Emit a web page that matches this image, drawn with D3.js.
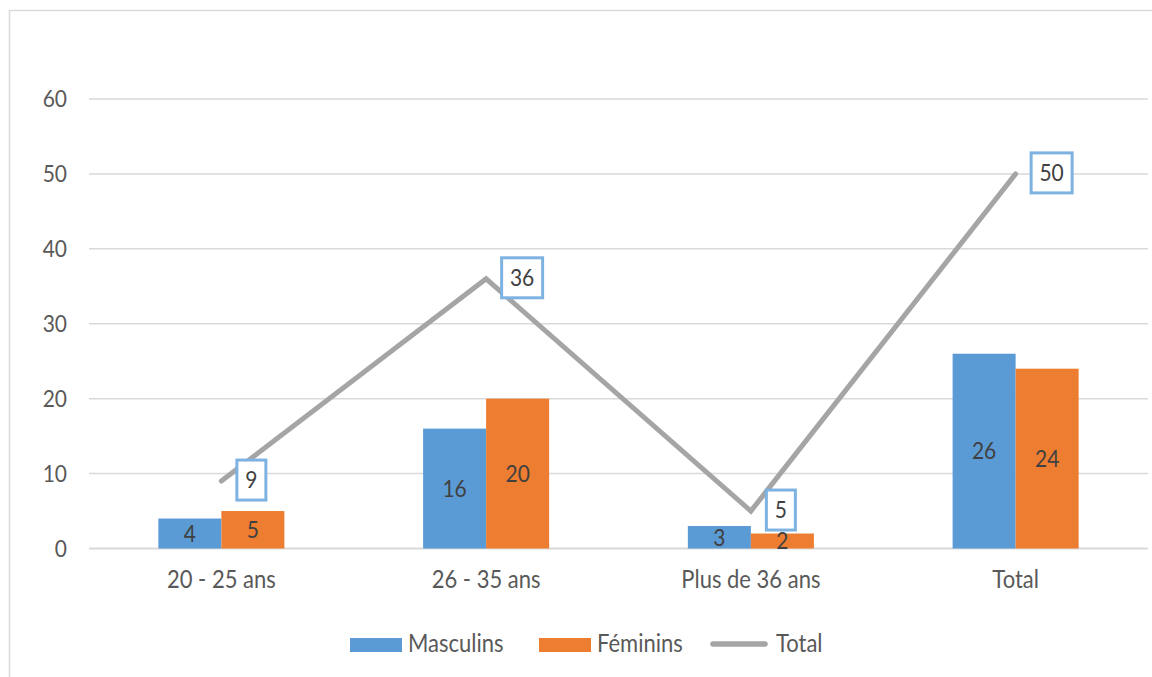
<!DOCTYPE html>
<html>
<head>
<meta charset="utf-8">
<script src="https://cdn.jsdelivr.net/npm/d3@7"></script>
<style>
  html, body { margin: 0; padding: 0; background: #fff; }
  svg { display: block; }
  text { font-family: Lato, "Open Sans", sans-serif; }
</style>
</head>
<body>
<svg id="chart" width="1152" height="677"></svg>
<script>
// ---- data ----
const categories = ["20 - 25 ans", "26 - 35 ans", "Plus de 36 ans", "Total"];
const masculins = [4, 16, 3, 26];
const feminins = [5, 20, 2, 24];
const totals = [9, 36, 5, 50];
const yTicks = [0, 10, 20, 30, 40, 50, 60];
const seriesNames = ["Masculins", "Féminins", "Total"];

// ---- styles ----
const C = { blue: "#5B9BD5", orange: "#ED7D31", gray: "#A5A5A5", grid: "#D9D9D9",
            tick: "#595959", label: "#404040", box: "#7EB2E1" };
const FS = 21, FS2 = 22, SY = 1.1;

const svg = d3.select("#chart");

// frame
svg.append("path").attr("d", "M9.5,677 V10.5 H1152")
  .attr("fill", "none").attr("stroke", C.grid).attr("stroke-width", 1.5);

const x0 = d3.scaleBand().domain(categories).range([89, 1148])
  .paddingInner(0.524).paddingOuter(0.262);
const x1 = d3.scaleBand().domain([0, 1]).range([0, x0.bandwidth()]);
const y = d3.scaleLinear().domain([0, 60]).range([548.5, 99]);

function txt(g, x, yb, s, opts) {
  opts = opts || {};
  return g.append("text")
    .attr("transform", `translate(${x},${yb}) scale(1,${SY})`)
    .attr("text-anchor", opts.anchor || "middle")
    .attr("font-size", opts.fs || FS)
    .attr("fill", opts.fill || C.tick)
    .text(s);
}
const halfDigit = 0.36 * FS * SY;

// gridlines
const grid = svg.append("g");
yTicks.forEach(t => {
  grid.append("line").attr("x1", 89).attr("x2", 1148)
    .attr("y1", y(t)).attr("y2", y(t))
    .attr("stroke", C.grid).attr("stroke-width", t === 0 ? 2 : 1.5);
  txt(grid, 67, y(t) + halfDigit, String(t), { anchor: "end" });
});

// category labels
categories.forEach(c => txt(svg, x0(c) + x0.bandwidth() / 2, 588, c, { fs: FS2 }));

// bars
const bars = svg.append("g");
const series = [masculins, feminins];
const colors = [C.blue, C.orange];
series.forEach((vals, si) => {
  vals.forEach((v, i) => {
    const bx = x0(categories[i]) + x1(si);
    bars.append("rect").attr("x", bx).attr("y", y(v))
      .attr("width", x1.bandwidth()).attr("height", y(0) - y(v))
      .attr("fill", colors[si]);
  });
});
series.forEach((vals, si) => {
  vals.forEach((v, i) => {
    const bx = x0(categories[i]) + x1(si) + x1.bandwidth() / 2;
    const mid = (y(v) + y(0)) / 2;
    txt(bars, bx, mid + halfDigit, String(v), { fill: C.label });
  });
});

// line
const cx = c => x0(c) + x0.bandwidth() / 2;
const line = d3.line().x((d, i) => cx(categories[i])).y(d => y(d));
svg.append("path").datum(totals).attr("d", line)
  .attr("fill", "none").attr("stroke", C.gray).attr("stroke-width", 5)
  .attr("stroke-linecap", "round").attr("stroke-linejoin", "miter");

// line labels with boxes
const lab = svg.append("g");
totals.forEach((v, i) => {
  const px = cx(categories[i]), py = y(v);
  const s = String(v);
  const w = s.length === 1 ? 29 : 41, h = 40;
  const left = px + 15.5, cy = py - 1;
  lab.append("rect").attr("x", left).attr("y", cy - h / 2)
    .attr("width", w).attr("height", h)
    .attr("fill", "#fff").attr("stroke", C.box).attr("stroke-width", 3);
  txt(lab, left + w / 2, cy + halfDigit, s, { fill: C.label });
});

// legend
const leg = svg.append("g");
const legX = [350, 539, 711];
leg.append("rect").attr("x", legX[0]).attr("y", 638).attr("width", 52).attr("height", 14).attr("fill", C.blue);
leg.append("rect").attr("x", legX[1]).attr("y", 638).attr("width", 52).attr("height", 14).attr("fill", C.orange);
leg.append("line").attr("x1", legX[2] + 2).attr("x2", legX[2] + 54).attr("y1", 644).attr("y2", 644)
  .attr("stroke", C.gray).attr("stroke-width", 5.5).attr("stroke-linecap", "round");
txt(leg, 408, 652, seriesNames[0], { anchor: "start", fs: FS2 });
txt(leg, 597, 652, seriesNames[1], { anchor: "start", fs: FS2 });
txt(leg, 776, 652, seriesNames[2], { anchor: "start", fs: FS2 });
</script>
</body>
</html>
